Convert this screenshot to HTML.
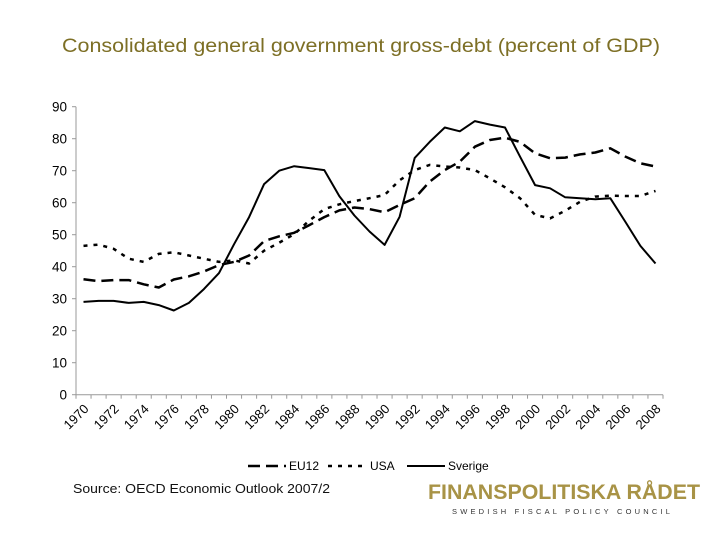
<!DOCTYPE html>
<html><head><meta charset="utf-8"><style>
body{margin:0;background:#fff;font-family:"Liberation Sans",sans-serif}
</style></head><body>
<svg width="720" height="540" viewBox="0 0 720 540">
<text x="62" y="52" font-size="19" fill="#7d6f25" textLength="598" lengthAdjust="spacingAndGlyphs">Consolidated general government gross-debt (percent of GDP)</text>
<g id="axes"></g>
<g id="lines"></g>
<g>
<g><line x1="248" y1="466" x2="286" y2="466" stroke="#000" stroke-width="2.5" stroke-dasharray="12,6"/><text x="289" y="470" font-size="12">EU12</text></g>
<g><line x1="328" y1="466" x2="366" y2="466" stroke="#000" stroke-width="2.5" stroke-dasharray="4,6"/><text x="370" y="470" font-size="12">USA</text></g>
<g><line x1="407" y1="466" x2="445" y2="466" stroke="#000" stroke-width="2"/><text x="448" y="470" font-size="12">Sverige</text></g>
</g>
<text x="73" y="493" font-size="13" fill="#111" textLength="257" lengthAdjust="spacingAndGlyphs">Source: OECD Economic Outlook 2007/2</text>
<text x="428" y="499" font-size="21" font-weight="bold" fill="#a89346" textLength="272" lengthAdjust="spacingAndGlyphs">FINANSPOLITISKA RÅDET</text>
<text x="452" y="514" font-size="7.5" fill="#333" letter-spacing="3.2">SWEDISH FISCAL POLICY COUNCIL</text>
</svg>
<script>
const years=[];for(let y=1970;y<=2008;y++)years.push(y);
const yTicks=[0,10,20,30,40,50,60,70,80,90];
const eu12=[36.1,35.5,35.8,35.8,34.5,33.5,36,37,38.5,40.5,41.5,43.5,48,49.5,50.6,53,55.5,57.6,58.5,58,57,59.3,61.4,66.6,70.2,72.8,77.5,79.6,80.3,79,75.4,73.9,74.1,75.1,75.7,77,74.4,72.3,71.3];
const usa=[46.5,46.9,45.6,42.5,41.5,44,44.5,43.5,42.5,41.5,42,41,45,47.5,50.2,54.4,58,59.5,60.5,61.4,62.4,67,70.2,71.8,71.3,71,70.2,67.6,64.8,61.4,56.2,55.1,57.5,60.3,61.9,62.2,62.1,62.1,63.7];
const sverige=[29,29.3,29.3,28.7,29,28,26.3,28.7,33,38,47,55.5,65.8,70,71.4,70.8,70.2,62,56,51,46.8,55.6,74,79,83.5,82.3,85.5,84.4,83.5,74.4,65.5,64.5,61.7,61.4,61.1,61.4,54,46.5,41];
const X0=76,X1=663,Y0=394.7,YS=3.2;
const band=(X1-X0)/years.length;
const xs=i=>X0+band*(i+0.5);
const ys=v=>Y0-v*YS;
const NS='http://www.w3.org/2000/svg';
function mk(t,a,p){const e=document.createElementNS(NS,t);for(const k in a)e.setAttribute(k,a[k]);p.appendChild(e);return e;}
const ax=document.getElementById('axes');
let e=mk('line',{x1:X0,y1:ys(0),x2:X0,y2:ys(90),stroke:'#999'},ax);


e=mk('line',{x1:X0,y1:Y0,x2:X1,y2:Y0,stroke:'#999'},ax);


yTicks.forEach(v=>{
 mk('line',{x1:X0-4,y1:ys(v),x2:X0,y2:ys(v),stroke:'#999'},ax);
 const t=mk('text',{x:X0-9,y:ys(v)+5,'text-anchor':'end','font-size':13.5},ax);t.textContent=v;
 
 
});
for(let i=0;i<=years.length;i++)mk('line',{x1:X0+band*i,y1:Y0,x2:X0+band*i,y2:Y0+4,stroke:'#999'},ax);
years.forEach((y,i)=>{if(i%2)return;
 const x=xs(i),yy=Y0+15;
 const t=mk('text',{x:x+6,y:yy,'text-anchor':'end','font-size':13,transform:`rotate(-45 ${x+6} ${yy})`},ax);t.textContent=y;
 
 
});
const lg=document.getElementById('lines');
function line(d,dash,w,name){
 const p=mk('polyline',{points:d.map((v,i)=>xs(i).toFixed(1)+','+ys(v).toFixed(1)).join(' '),fill:'none',stroke:'#000','stroke-width':w,'stroke-dasharray':dash,'stroke-linejoin':'round'},lg);
 
 
}
line(eu12,'12,6',2.5,'line-eu12');
line(usa,'4,6',2.5,'line-usa');
line(sverige,'none',2,'line-sverige');
</script>
</body></html>
